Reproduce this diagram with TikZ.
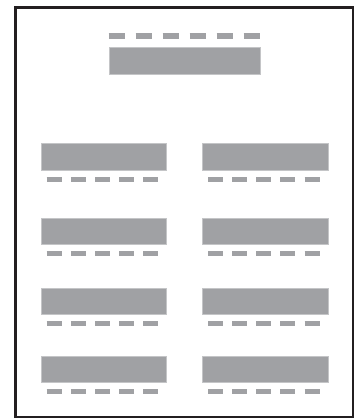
\documentclass[tikz,border=0pt]{standalone}
\definecolor{bargray}{HTML}{A0A1A4}
\definecolor{baredge}{HTML}{C4C5C7}
\definecolor{framecol}{HTML}{231F20}
\tikzset{
  bar/.style={rectangle, inner sep=0pt, fill=bargray, draw=baredge, line width=0.6pt, anchor=north west},
  bigbar/.style={bar, minimum width=151.3pt, minimum height=26.7pt},
  rowbar/.style={bar, minimum width=125.3pt, minimum height=26.5pt},
  topdash/.style={draw=bargray, line width=6pt, line cap=butt, dash pattern=on 16.3pt off 10.7pt},
  rowdash/.style={draw=bargray, line width=5pt, line cap=butt, dash pattern=on 15pt off 9.15pt},
  frame/.style={draw=framecol, line width=2.6pt}
}
\begin{document}
\begin{tikzpicture}[x=1pt,y=-1pt]
\useasboundingbox (0,0) rectangle (355,418);
\fill[white] (0,0) rectangle (355,418);
\draw[frame] (15.3,7.3) rectangle (352.8,416.8);
% top
\coordinate (t1) at (108.7,36.3);
\coordinate (t2) at (260,36.3);
\draw[topdash] (t1) -- (t2);
\node[bigbar] (top) at (108.7,47) {};
% rows
\foreach \i/\yb/\yd in {1/143.3/179.2, 2/217.7/253.5, 3/287.7/323.5, 4/355.7/391.5} {
  \node[rowbar] (L\i) at (40.7,\yb) {};
  \node[rowbar] (R\i) at (202.2,\yb) {};
  \coordinate (la\i) at (46.7,\yd);
  \coordinate (lb\i) at (158.3,\yd);
  \coordinate (ra\i) at (208.0,\yd);
  \coordinate (rb\i) at (319.6,\yd);
  \draw[rowdash] (la\i) -- (lb\i);
  \draw[rowdash] (ra\i) -- (rb\i);
}
\end{tikzpicture}
\end{document}
